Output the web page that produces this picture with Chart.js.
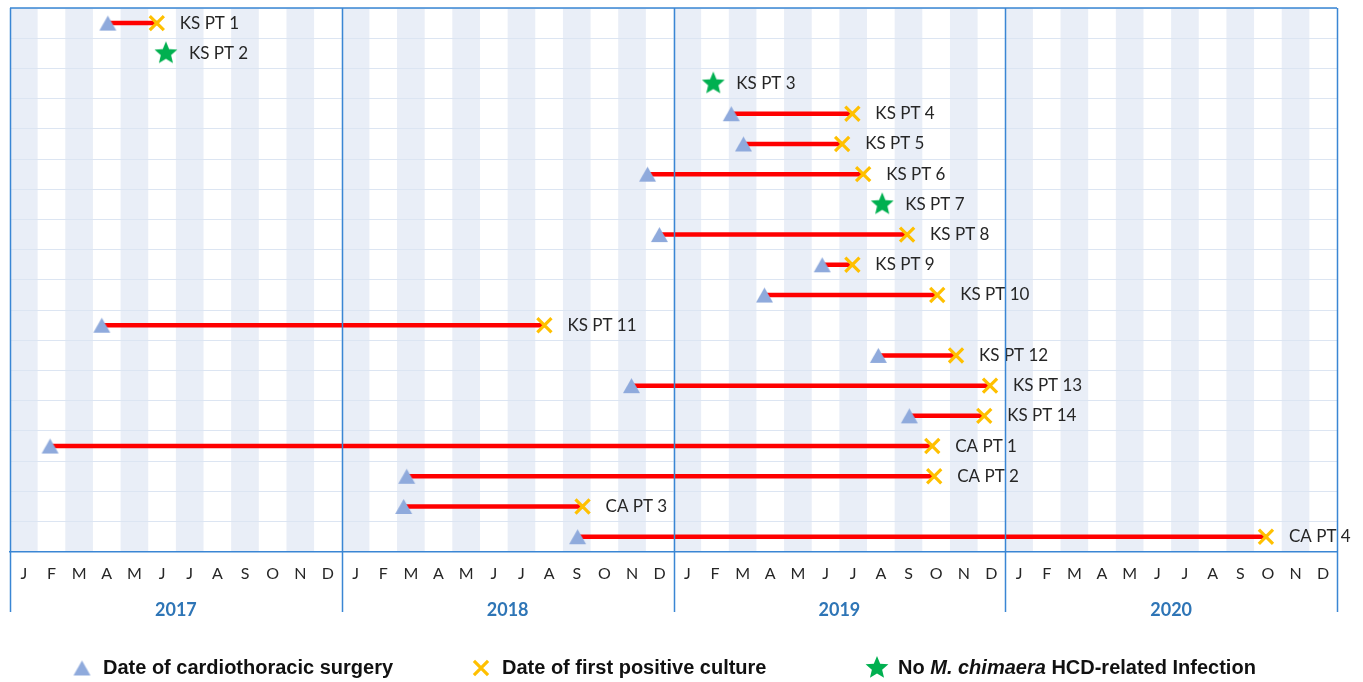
<!DOCTYPE html>
<html>
<head>
<meta charset="utf-8">
<script src="https://cdn.jsdelivr.net/npm/chart.js@4.4.0/dist/chart.umd.min.js"></script>
<style>
html, body { margin: 0; padding: 0; background: #fff; }
#wrap { position: relative; width: 1363px; height: 682px; }
</style>
</head>
<body>
<div id="wrap"><canvas id="timeline"></canvas></div>
<script>
// Dates are months counted from the start of Jan 2017 (0) to the end of Dec 2020 (48)
const patients = ['KS PT 1', 'KS PT 2', 'KS PT 3', 'KS PT 4', 'KS PT 5', 'KS PT 6', 'KS PT 7',
    'KS PT 8', 'KS PT 9', 'KS PT 10', 'KS PT 11', 'KS PT 12', 'KS PT 13', 'KS PT 14',
    'CA PT 1', 'CA PT 2', 'CA PT 3', 'CA PT 4'];
const surgeryMonth = [3.54, null, null, 26.09, 26.53, 23.06, null, 23.49, 29.38, 27.29,
    3.32, 31.41, 22.48, 32.53, 1.45, 14.35, 14.24, 20.53];
const cultureMonth = [5.31, null, null, 30.47, 30.10, 30.86, null, 32.45, 30.47, 33.54,
    19.33, 34.22, 35.45, 35.24, 33.36, 33.43, 20.71, 45.43];
const noInfectionMonth = [null, 5.64, 25.44, null, null, null, 31.55, null, null, null,
    null, null, null, null, null, null, null, null];
const monthLetters = ['J', 'F', 'M', 'A', 'M', 'J', 'J', 'A', 'S', 'O', 'N', 'D'];
const years = ['2017', '2018', '2019', '2020'];
const legendLabels = ['Date of cardiothoracic surgery', 'Date of first positive culture',
    'No M. chimaera HCD-related Infection'];

const BLUE = '#3A86D4';
const TEXT = '#262626';
const labelGap = 23;

// filled five point star used as a point style
function makeStar(r, color) {
    const c = document.createElement('canvas');
    c.width = c.height = Math.ceil(r * 2) + 2;
    const g = c.getContext('2d');
    const cx = c.width / 2, cy = c.height / 2;
    g.beginPath();
    for (let i = 0; i < 10; i++) {
        const rad = i % 2 === 0 ? r : r * 0.45;
        const a = -Math.PI / 2 + i * Math.PI / 5;
        const px = cx + rad * Math.cos(a), py = cy + rad * Math.sin(a);
        if (i === 0) g.moveTo(px, py); else g.lineTo(px, py);
    }
    g.closePath();
    g.fillStyle = color;
    g.fill();
    return c;
}

// triangle centred on its point (the built in one sits high)
function makeTriangle(w, h, color) {
    const c = document.createElement('canvas');
    c.width = w + 2;
    c.height = h + 2;
    const g = c.getContext('2d');
    g.beginPath();
    g.moveTo(c.width / 2, 1);
    g.lineTo(c.width - 1, h + 1);
    g.lineTo(1, h + 1);
    g.closePath();
    g.fillStyle = color;
    g.fill();
    return c;
}

const starImg = makeStar(12, '#00B050');
const triangleImg = makeTriangle(17, 15, '#8FAADC');

const triangleStyle = { pointStyle: triangleImg, radius: 9, fill: '#8FAADC', stroke: '#8FAADC', borderWidth: 0 };
const crossStyle = { pointStyle: 'crossRot', radius: 10, fill: '#FFC000', stroke: '#FFC000', borderWidth: 3.2 };
const starStyle = { pointStyle: starImg, radius: 12, fill: '#00B050', stroke: '#00B050', borderWidth: 0 };

// red line between surgery and first positive culture
const segments = [];
patients.forEach(function(p, i) {
    if (surgeryMonth[i] == null) return;
    segments.push({
        data: [{ x: surgeryMonth[i], y: i }, { x: cultureMonth[i], y: i }],
        showLine: true,
        borderColor: '#FF0000',
        borderWidth: 4.5,
        pointRadius: 0,
        order: 10
    });
});

function points(arr) {
    return arr.map(function(v, i) { return v == null ? null : { x: v, y: i }; }).filter(Boolean);
}

const datasets = segments.concat([
    {
        label: legendLabels[0],
        data: points(surgeryMonth),
        pointStyle: triangleStyle.pointStyle,
        pointRadius: triangleStyle.radius,
        order: 2
    },
    {
        label: legendLabels[1],
        data: points(cultureMonth),
        pointStyle: crossStyle.pointStyle,
        pointRadius: crossStyle.radius,
        pointBorderColor: crossStyle.stroke,
        pointBorderWidth: crossStyle.borderWidth,
        order: 1
    },
    {
        label: legendLabels[2],
        data: points(noInfectionMonth),
        pointStyle: starStyle.pointStyle,
        pointRadius: starStyle.radius,
        order: 1
    }
]);

// shaded stripes on every other month
const stripes = {
    id: 'stripes',
    beforeDraw(chart) {
        const { ctx, chartArea, scales: { x } } = chart;
        ctx.save();
        ctx.fillStyle = '#E9EEF7';
        for (let m = 0; m < 48; m += 2) {
            const x0 = x.getPixelForValue(m), x1 = x.getPixelForValue(m + 1);
            ctx.fillRect(x0, chartArea.top, x1 - x0, chartArea.bottom - chartArea.top);
        }
        ctx.restore();
    }
};

// patient names to the right of the last marker
const rowLabels = {
    id: 'rowLabels',
    afterDatasetsDraw(chart) {
        const { ctx, scales: { x, y } } = chart;
        ctx.save();
        ctx.font = '17px Lato';
        ctx.fillStyle = TEXT;
        ctx.textBaseline = 'middle';
        patients.forEach(function(p, i) {
            const end = cultureMonth[i] != null ? cultureMonth[i] : noInfectionMonth[i];
            ctx.fillText(p, x.getPixelForValue(end) + labelGap, y.getPixelForValue(i));
        });
        ctx.restore();
    }
};

// frame, year dividers, year labels and legend
const frame = {
    id: 'frame',
    afterDraw(chart) {
        const { ctx, chartArea, scales: { x } } = chart;
        const bottom = 612;
        ctx.save();
        ctx.strokeStyle = BLUE;
        ctx.lineWidth = 1.5;
        ctx.beginPath();
        ctx.moveTo(chartArea.left, chartArea.top);
        ctx.lineTo(chartArea.right, chartArea.top);
        for (let k = 0; k <= years.length; k++) {
            const px = Math.round(x.getPixelForValue(k * 12)) + 0.5;
            ctx.moveTo(px, chartArea.top);
            ctx.lineTo(px, bottom);
        }
        ctx.stroke();

        ctx.font = 'bold 18px Lato';
        ctx.fillStyle = '#2E75B6';
        ctx.textAlign = 'center';
        ctx.textBaseline = 'middle';
        years.forEach(function(yr, k) {
            ctx.fillText(yr, x.getPixelForValue(k * 12 + 6), 610);
        });

        // legend
        const ly = 668;
        const items = [
            { mx: 82, tx: 103, style: triangleStyle },
            { mx: 481, tx: 502, style: crossStyle },
            { mx: 877, tx: 898, style: starStyle }
        ];
        ctx.textAlign = 'left';
        items.forEach(function(it, i) {
            ctx.fillStyle = it.style.fill;
            ctx.strokeStyle = it.style.stroke;
            ctx.lineWidth = it.style.borderWidth;
            Chart.helpers.drawPoint(ctx, { pointStyle: it.style.pointStyle, radius: it.style.radius, rotation: 0, borderWidth: it.style.borderWidth }, it.mx, ly);
            ctx.fillStyle = '#111';
            const label = legendLabels[i];
            const ital = 'M. chimaera';
            const cut = label.indexOf(ital);
            let tx = it.tx;
            const runs = cut < 0 ? [[label, false]] :
                [[label.slice(0, cut), false], [ital, true], [label.slice(cut + ital.length), false]];
            runs.forEach(function(r) {
                ctx.font = (r[1] ? 'italic ' : '') + 'bold 20px "Liberation Sans Narrow", "Liberation Sans", sans-serif';
                ctx.fillText(r[0], tx, ly);
                tx += ctx.measureText(r[0]).width;
            });
        });
        ctx.restore();
    }
};

new Chart(document.getElementById('timeline'), {
    type: 'scatter',
    data: { datasets: datasets },
    options: {
        responsive: true,
        maintainAspectRatio: false,
        animation: false,
        layout: { autoPadding: false, padding: { left: 10, right: 26, top: 8, bottom: 87 } },
        plugins: {
            legend: { display: false },
            tooltip: { enabled: false }
        },
        scales: {
            x: {
                type: 'linear',
                min: 0,
                max: 48,
                afterBuildTicks: function(scale) {
                    scale.ticks = Array.from({ length: 48 }, function(_, m) { return { value: m + 0.5 }; });
                },
                ticks: {
                    autoSkip: false,
                    maxRotation: 0,
                    padding: 12,
                    color: TEXT,
                    font: { family: 'Lato', size: 16 },
                    callback: function(value, index) { return monthLetters[index % 12]; }
                },
                grid: { display: false, drawTicks: false },
                border: { display: true, color: BLUE, width: 1.5 }
            },
            y: {
                type: 'linear',
                min: -0.5,
                max: patients.length - 0.5,
                reverse: true,
                afterBuildTicks: function(scale) {
                    scale.ticks = Array.from({ length: patients.length + 1 }, function(_, k) { return { value: k - 0.5 }; });
                },
                ticks: { display: false },
                grid: { color: '#DCE5F2', lineWidth: 1, drawTicks: false },
                border: { display: false }
            }
        }
    },
    plugins: [stripes, rowLabels, frame]
});
</script>
</body>
</html>
